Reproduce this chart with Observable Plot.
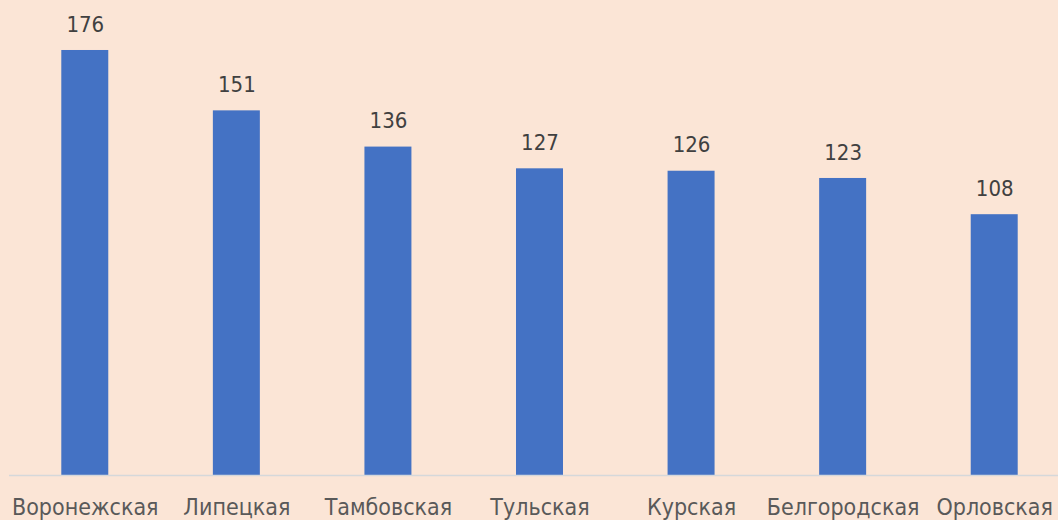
<!DOCTYPE html>
<html>
<head>
<meta charset="utf-8">
<script src="https://cdn.jsdelivr.net/npm/d3@7"></script>
<script src="https://cdn.jsdelivr.net/npm/@observablehq/plot@0.6"></script>
<style>
  html, body { margin: 0; padding: 0; background: #FBE5D6; overflow: hidden; }
  #chart svg { display: block; }
</style>
</head>
<body>
<div id="chart"></div>
<script>
const regions = ["Воронежская", "Липецкая", "Тамбовская", "Тульская", "Курская", "Белгородская", "Орловская"];
const values = [176, 151, 136, 127, 126, 123, 108];

const data = regions.map((r, i) => ({region: r, value: values[i]}));
const font = "'DejaVu Sans Condensed', 'DejaVu Sans', sans-serif";

const chart = Plot.plot({
  width: 1058,
  height: 520,
  marginLeft: 9,
  marginRight: -12,
  marginTop: 0,
  marginBottom: 45,
  style: {background: "#FBE5D6", fontFamily: font, fontSize: "22px"},
  x: {domain: regions, paddingInner: 0.69, paddingOuter: 0.345, round: false, label: null},
  y: {domain: [0, 196.7], axis: null},
  marks: [
    Plot.barY(data, {x: "region", y: "value", fill: "#4472C4"}),
    Plot.ruleY([0], {stroke: "#D5D8DA", strokeWidth: 1.5}),
    Plot.text(data, {x: "region", y: "value", text: d => String(d.value), dy: -26, lineAnchor: "middle", fill: "#404040", fontSize: 22, fontFamily: font}),
    Plot.axisX({tickSize: 0, tickPadding: 23, fontSize: 23, fontFamily: font, color: "#595959", label: null})
  ]
});
document.getElementById("chart").append(chart);
</script>
</body>
</html>
